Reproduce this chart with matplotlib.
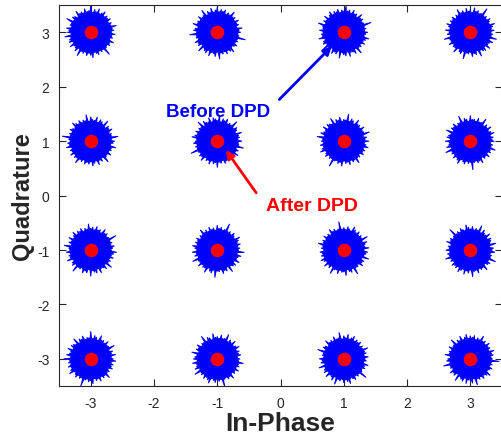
import numpy as np
import matplotlib
matplotlib.use('Agg')
import matplotlib.pyplot as plt

plt.rcParams['font.family'] = ['Liberation Sans', 'DejaVu Sans']
plt.rcParams['axes.unicode_minus'] = False

# 16-QAM ideal symbol positions
levels = [-3, -1, 1, 3]
tick_vals = [-3, -2, -1, 0, 1, 2, 3]

# hand-estimated outline radii (in-phase units) of the "before DPD" clouds
spike_r = [0.36, 0.33, 0.40, 0.34, 0.37, 0.32, 0.43, 0.35, 0.34, 0.39, 0.33, 0.36,
           0.35, 0.41, 0.32, 0.36, 0.38, 0.33, 0.44, 0.34, 0.35, 0.32, 0.39, 0.35,
           0.37, 0.31, 0.42, 0.33, 0.36, 0.38, 0.32, 0.40, 0.34, 0.35, 0.39, 0.32,
           0.43, 0.34, 0.36, 0.33, 0.38, 0.34, 0.37, 0.41, 0.33, 0.35, 0.38, 0.33,
           0.36, 0.34, 0.46, 0.35, 0.33, 0.37, 0.35, 0.40, 0.32, 0.36, 0.34, 0.39,
           0.33, 0.37, 0.35, 0.42, 0.34, 0.36, 0.32, 0.38, 0.35, 0.37, 0.33, 0.40]
valley_r = [0.30, 0.31, 0.29, 0.32, 0.30, 0.31]
after_size = 95  # marker area of the compact "after DPD" cloud

BLUE = '#0000ff'
RED = '#ff0000'

fig = plt.figure(figsize=(5.01, 4.35), dpi=100)
ax = fig.add_axes([0.118, 0.110, 0.884, 0.876])

# x/y aspect of the clouds in data units (cloud looks round on screen)
yscale = 62.5 / 54.2
n = len(spike_r)
ang = np.linspace(0, 2 * np.pi, 2 * n, endpoint=False)

k = 0
for qy in levels:
    for qx in levels:
        r = np.roll(spike_r, 7 * k)
        rr = np.empty(2 * n)
        rr[0::2] = r
        rr[1::2] = np.resize(np.roll(valley_r, k), n)
        xs = qx + rr * np.cos(ang)
        ys = qy + rr * np.sin(ang) * yscale
        ax.fill(xs, ys, facecolor=BLUE, edgecolor=BLUE, lw=0.7, zorder=2)
        ax.scatter(qx, qy, s=after_size, color=RED, zorder=3, linewidths=0)
        k += 1

ax.set_xlim(-3.5, 3.5)
ax.set_ylim(-3.5, 3.5)
ax.set_xticks(tick_vals)
ax.set_yticks(tick_vals)
ax.tick_params(direction='in', length=5, top=True, right=True,
               labelsize=10, colors='#262626', pad=7)
for s in ax.spines.values():
    s.set_color('#262626')
    s.set_linewidth(0.8)

ax.set_xlabel('In-Phase', fontsize=19, fontweight='bold', color='#262626', labelpad=1)
ax.set_ylabel('Quadrature', fontsize=17, fontweight='bold', color='#262626', labelpad=2)

ax.annotate('', xy=(0.84, 2.78), xytext=(-0.05, 1.73),
            arrowprops=dict(arrowstyle='-|>', color=BLUE, lw=2, mutation_scale=12),
            zorder=4)
ax.text(-0.99, 1.54, 'Before DPD', color=BLUE, fontsize=13.5, fontweight='bold',
        ha='center', va='center')

ax.annotate('', xy=(-0.89, 0.88), xytext=(-0.36, 0.01),
            arrowprops=dict(arrowstyle='-|>', color=RED, lw=2, mutation_scale=12),
            zorder=4)
ax.text(0.5, -0.19, 'After DPD', color=RED, fontsize=14, fontweight='bold',
        ha='center', va='center')

fig.savefig('out.png', dpi=100)
